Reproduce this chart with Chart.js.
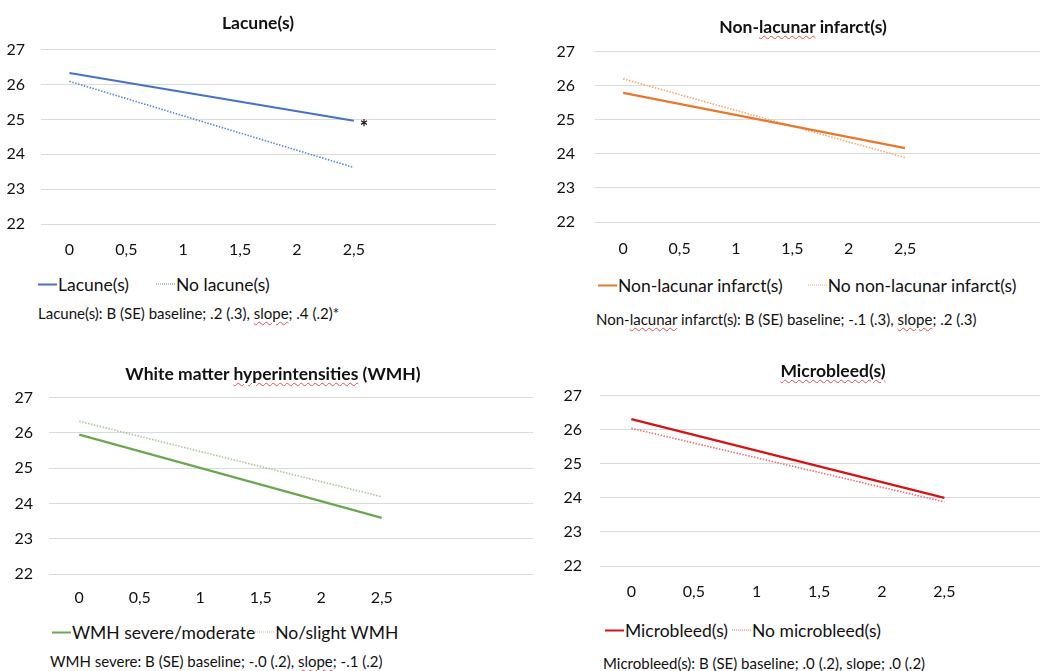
<!DOCTYPE html>
<html>
<head>
<meta charset="utf-8">
<script src="https://cdn.jsdelivr.net/npm/chart.js@4.4.1/dist/chart.umd.min.js"></script>
<style>
    html, body { margin: 0; padding: 0; background: #fff; }
    body { position: relative; width: 1040px; height: 671px; overflow: hidden; font-family: Lato, "Open Sans", sans-serif; color: #111; }
    canvas { position: absolute; }
    .title { position: absolute; font-weight: bold; font-size: 17.5px; white-space: nowrap; transform: translate(-50%, -50%); }
    .legend { position: absolute; display: flex; align-items: center; font-size: 17.5px; white-space: nowrap; transform: translateY(-50%); }
    .legend .item { display: flex; align-items: center; }
    .legend .mark { display: inline-block; width: 19px; height: 0; margin-right: 1px; }
    .note { position: absolute; font-size: 15px; white-space: nowrap; transform: translateY(-50%); }
    .sq { text-decoration: underline wavy #e05050; text-decoration-thickness: 1px; text-underline-offset: 2px; }
</style>
</head>
<body>
<script>
const xLabels = ['0', '0,5', '1', '1,5', '2', '2,5', '', ''];
const yMin = 22;
const yMax = 27;

const lacuneYes = [26.33, null, null, null, null, 24.96];
const lacuneNo = [26.09, null, null, null, null, 23.62];
const nonLacYes = [25.79, null, null, null, null, 24.17];
const nonLacNo = [26.20, null, null, null, null, 23.89];
const wmhSevere = [25.95, null, null, null, null, 23.59];
const wmhSlight = [26.33, null, null, null, null, 24.19];
const mbYes = [26.31, null, null, null, null, 24.00];
const mbNo = [26.04, null, null, null, null, 23.88];

const panels = [
    {
        title: 'Lacune(s)', titleAt: [258, 22],
        area: { left: 41, right: 496, top: 50, bottom: 224 }, yPad: 16, xGap: 26,
        series: [
            { label: 'Lacune(s)', data: lacuneYes, color: '#4472c4', dotted: false },
            { label: 'No lacune(s)', data: lacuneNo, color: '#5a8acf', dotted: true },
        ],
        star: '*',
        legendAt: [38, 284], legendGap: 27,
        note: 'Lacune(s): B (SE) baseline; .2 (.3), <span class="sq">slope</span>; .4 (.2)*', noteAt: [38, 313],
    },
    {
        title: 'Non-<span class="sq">lacunar</span> infarct(s)', titleAt: [803, 26],
        area: { left: 595, right: 1046, top: 52, bottom: 222 }, yPad: 20, xGap: 27,
        series: [
            { label: 'Non-lacunar infarct(s)', data: nonLacYes, color: '#e8772e', dotted: false },
            { label: 'No non-lacunar infarct(s)', data: nonLacNo, color: '#f2a772', dotted: true },
        ],
        legendAt: [598, 285], legendGap: 25,
        note: 'Non-<span class="sq">lacunar</span> infarct(s): B (SE) baseline; -.1 (.3), <span class="sq">slope</span>; .2 (.3)', noteAt: [596, 319],
    },
    {
        title: 'White matter <span class="sq">hyperintensities</span> (WMH)', titleAt: [273, 373],
        area: { left: 49, right: 533, top: 398, bottom: 574 }, yPad: 16, xGap: 24,
        series: [
            { label: 'WMH severe/moderate', data: wmhSevere, color: '#6aa84f', dotted: false },
            { label: 'No/slight WMH', data: wmhSlight, color: '#a8c49a', dotted: true },
        ],
        legendAt: [52, 632], legendGap: 0,
        note: 'WMH severe: B (SE) baseline; -.0 (.2), <span class="sq">slope</span>; -.1 (.2)', noteAt: [50, 661],
    },
    {
        title: '<span class="sq">Microbleed(s)</span>', titleAt: [833, 370],
        area: { left: 600, right: 1101, top: 396, bottom: 566 }, yPad: 18, xGap: 26,
        series: [
            { label: 'Microbleed(s)', data: mbYes, color: '#d41414', dotted: false },
            { label: 'No microbleed(s)', data: mbNo, color: '#e5707c', dotted: true },
        ],
        legendAt: [605, 630], legendGap: 4,
        note: '<span class="sq">Microbleed(s)</span>: B (SE) baseline; .0 (.2), <span class="sq">slope</span>; .0 (.2)', noteAt: [603, 663],
    },
];

const starPlugin = {
    id: 'star',
    afterDatasetsDraw(chart, args, opts) {
        if (!opts.text) return;
        const meta = chart.getDatasetMeta(0);
        const pts = meta.data.filter((p) => !p.skip);
        const pt = pts[pts.length - 1];
        const ctx = chart.ctx;
        ctx.save();
        ctx.font = 'bold 20px Lato, sans-serif';
        ctx.fillStyle = '#111';
        ctx.textAlign = 'left';
        ctx.textBaseline = 'middle';
        ctx.fillText(opts.text, pt.x + 6, pt.y + 8);
        ctx.restore();
    },
};

function addText(cls, html, x, y) {
    const div = document.createElement('div');
    div.className = cls;
    div.innerHTML = html;
    div.style.left = `${x}px`;
    div.style.top = `${y}px`;
    document.body.appendChild(div);
    return div;
}

function drawPanel(p) {
    const xH = 44;
    const yW = 40;
    const a = p.area;
    const canvas = document.createElement('canvas');
    canvas.width = a.right - a.left + yW + 4;
    canvas.height = a.bottom - a.top + xH + 12;
    document.body.appendChild(canvas);

    const chart = new Chart(canvas, {
        type: 'line',
        data: {
            labels: xLabels,
            datasets: p.series.map((s) => ({
                label: s.label,
                data: s.data,
                borderColor: s.color,
                backgroundColor: s.color,
                borderWidth: s.dotted ? 1.6 : 2.2,
                borderDash: s.dotted ? [1.5, 1.5] : [],
                pointRadius: 0,
                spanGaps: true,
                tension: 0,
            })),
        },
        options: {
            responsive: false,
            maintainAspectRatio: false,
            animation: false,
            devicePixelRatio: 1,
            layout: { padding: { top: 0, left: 0, right: 4, bottom: 0 } },
            plugins: {
                legend: { display: false },
                title: { display: false },
                tooltip: { enabled: false },
                star: { text: p.star || '' },
            },
            scales: {
                x: {
                    offset: true,
                    grid: { display: false },
                    border: { display: false },
                    ticks: {
                        color: '#111',
                        font: { family: 'Lato', size: 16 },
                        padding: p.xGap - 18,
                        maxRotation: 0,
                        autoSkip: false,
                    },
                    afterFit: (scale) => { scale.height = xH; },
                },
                y: {
                    min: yMin,
                    max: yMax,
                    grid: { color: '#dadada', lineWidth: 1, drawTicks: false },
                    border: { display: false },
                    ticks: {
                        stepSize: 1,
                        color: '#111',
                        font: { family: 'Lato', size: 16 },
                        padding: p.yPad,
                    },
                    afterFit: (scale) => { scale.width = yW; },
                },
            },
        },
        plugins: [starPlugin],
    });

    // fit the plot area to the size measured on the picture
    let ca = chart.chartArea;
    const dw = Math.round((a.right - a.left) - (ca.right - ca.left));
    const dh = Math.round((a.bottom - a.top) - (ca.bottom - ca.top));
    if (dw || dh) {
        chart.resize(canvas.width + dw, canvas.height + dh);
        chart.update();
    }
    ca = chart.chartArea;
    canvas.style.left = `${a.left - ca.left}px`;
    canvas.style.top = `${a.top - ca.top}px`;

    addText('title', p.title, p.titleAt[0], p.titleAt[1]);

    const legend = addText('legend', '', p.legendAt[0], p.legendAt[1]);
    legend.style.gap = `${p.legendGap}px`;
    p.series.forEach((s) => {
        const item = document.createElement('span');
        item.className = 'item';
        const mark = document.createElement('span');
        mark.className = 'mark';
        mark.style.borderTop = s.dotted ? `1.5px dotted ${s.color}` : `2px solid ${s.color}`;
        const txt = document.createElement('span');
        txt.textContent = s.label;
        item.appendChild(mark);
        item.appendChild(txt);
        legend.appendChild(item);
    });

    addText('note', p.note, p.noteAt[0], p.noteAt[1]);
}

panels.forEach(drawPanel);
</script>
</body>
</html>
